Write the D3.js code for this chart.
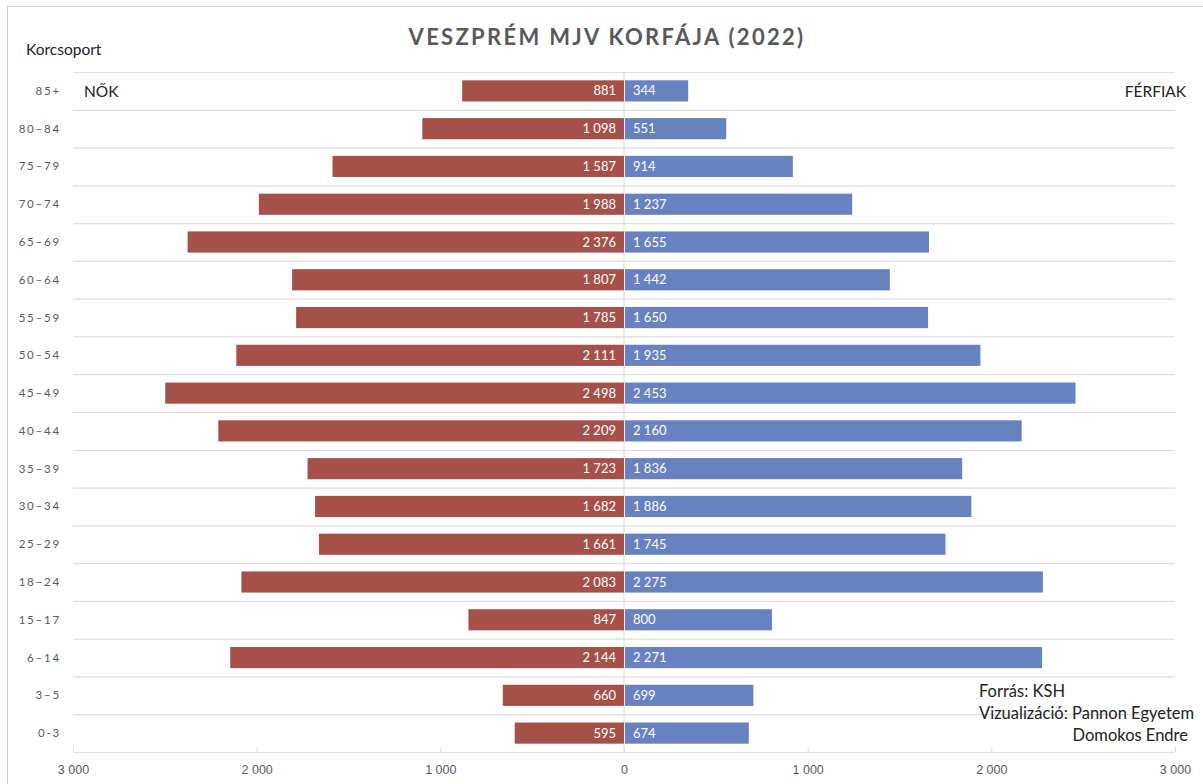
<!DOCTYPE html>
<html>
<head>
<meta charset="utf-8">
<script src="https://cdn.jsdelivr.net/npm/d3@7"></script>
<style>
  body { margin: 0; background: #fff; }
  svg { font-family: Lato, "Open Sans", sans-serif; }
</style>
</head>
<body>
<div id="chart"></div>
<script>
const AGE_GROUPS = ["85+", "80–84", "75–79", "70–74", "65–69", "60–64", "55–59", "50–54",
    "45–49", "40–44", "35–39", "30–34", "25–29", "18–24", "15–17", "6–14", "3–5", "0-3"];
const WOMEN = [881, 1098, 1587, 1988, 2376, 1807, 1785, 2111, 2498, 2209, 1723, 1682, 1661, 2083, 847, 2144, 660, 595];
const MEN = [344, 551, 914, 1237, 1655, 1442, 1650, 1935, 2453, 2160, 1836, 1886, 1745, 2275, 800, 2271, 699, 674];
const X_TICKS = [-3000, -2000, -1000, 0, 1000, 2000, 3000];

const width = 1203, height = 784;
const margin = { top: 72, right: 28, bottom: 32, left: 73 };
const innerW = width - margin.left - margin.right;
const innerH = height - margin.top - margin.bottom;

const RED = "#a5514a", BLUE = "#6782bf", GRID = "#dedede", TXT = "#595959";

const locale = d3.formatLocale({ decimal: ",", thousands: " ", grouping: [3], currency: ["", ""] });
const fmt = locale.format(",d");

const data = AGE_GROUPS.map((age, i) => ({ age, women: WOMEN[i], men: MEN[i] }));

const svg = d3.select("#chart").append("svg")
    .attr("width", width)
    .attr("height", height);

// chart frame
svg.append("rect")
    .attr("x", 7.5).attr("y", 6.5)
    .attr("width", width).attr("height", height)
    .attr("fill", "none")
    .attr("stroke", "#d0d0d0");

const g = svg.append("g")
    .attr("transform", `translate(${margin.left},${margin.top})`);

const x = d3.scaleLinear().domain([-3000, 3000]).range([0, innerW]);
const y = d3.scaleBand().domain(AGE_GROUPS).range([0, innerH]).paddingInner(0.44).paddingOuter(0.22);

// horizontal gridlines between rows
g.selectAll(".grid")
    .data(d3.range(AGE_GROUPS.length + 1))
    .enter().append("line")
    .attr("x1", 0).attr("x2", innerW)
    .attr("y1", i => i * innerH / AGE_GROUPS.length + 0.5)
    .attr("y2", i => i * innerH / AGE_GROUPS.length + 0.5)
    .attr("stroke", GRID)
    .attr("stroke-width", 1.2);

// x axis
const xAxis = g.append("g")
    .attr("transform", `translate(0,${innerH})`)
    .call(d3.axisBottom(x).tickValues(X_TICKS).tickSize(5).tickSizeOuter(0)
        .tickFormat(d => fmt(Math.abs(d))));
xAxis.select(".domain").remove();
xAxis.selectAll(".tick line").attr("stroke", GRID).attr("y1", -5).attr("y2", 0);
xAxis.selectAll(".tick text")
    .attr("y", 13)
    .attr("fill", TXT)
    .style("font-size", "12.5px");

// zero line
g.append("line")
    .attr("x1", x(0)).attr("x2", x(0))
    .attr("y1", 0).attr("y2", innerH)
    .attr("stroke", GRID)
    .attr("stroke-width", 1.2);

const rows = g.selectAll(".row")
    .data(data)
    .enter().append("g")
    .attr("class", "row");

rows.append("rect")
    .attr("x", d => x(-d.women))
    .attr("y", d => y(d.age))
    .attr("width", d => x(0) - x(-d.women))
    .attr("height", y.bandwidth())
    .attr("fill", RED);

rows.append("rect")
    .attr("x", x(0) + 1)
    .attr("y", d => y(d.age))
    .attr("width", d => x(d.men) - x(0))
    .attr("height", y.bandwidth())
    .attr("fill", BLUE);

rows.append("text")
    .attr("x", x(0) - 8)
    .attr("y", d => y(d.age) + y.bandwidth() / 2)
    .attr("dy", "0.35em")
    .attr("text-anchor", "end")
    .attr("fill", "#fff")
    .style("font-size", "13px")
    .text(d => fmt(d.women));

rows.append("text")
    .attr("x", x(0) + 9)
    .attr("y", d => y(d.age) + y.bandwidth() / 2)
    .attr("dy", "0.35em")
    .attr("fill", "#fff")
    .style("font-size", "13px")
    .text(d => fmt(d.men));

// category labels
g.selectAll(".cat")
    .data(AGE_GROUPS)
    .enter().append("text")
    .attr("x", -12)
    .attr("y", d => y(d) + y.bandwidth() / 2)
    .attr("dy", "0.35em")
    .attr("text-anchor", "end")
    .attr("fill", TXT)
    .style("font-size", "11.5px")
    .style("letter-spacing", "1.8px")
    .text(d => d);

// title and annotations
svg.append("text")
    .attr("x", 607).attr("y", 45)
    .attr("text-anchor", "middle")
    .attr("fill", TXT)
    .style("font-size", "22px")
    .style("font-weight", "bold")
    .style("letter-spacing", "2.3px")
    .text("VESZPRÉM MJV KORFÁJA (2022)");

svg.append("text")
    .attr("x", 26).attr("y", 55)
    .attr("fill", "#222")
    .style("font-size", "15.5px")
    .text("Korcsoport");

svg.append("text")
    .attr("x", 84).attr("y", 97)
    .attr("fill", "#222")
    .style("font-size", "15.5px")
    .text("NŐK");

svg.append("text")
    .attr("x", 1186).attr("y", 97)
    .attr("text-anchor", "end")
    .attr("fill", "#222")
    .style("font-size", "15.5px")
    .text("FÉRFIAK");

const credits = [
    { text: "Forrás: KSH", x: 979, y: 697, anchor: "start" },
    { text: "Vizualizáció: Pannon Egyetem", x: 979, y: 719, anchor: "start" },
    { text: "Domokos Endre", x: 1188, y: 741, anchor: "end" }
];
svg.selectAll(".credit")
    .data(credits)
    .enter().append("text")
    .attr("x", d => d.x).attr("y", d => d.y)
    .attr("text-anchor", d => d.anchor)
    .attr("fill", "#222")
    .style("font-size", "16.5px")
    .text(d => d.text);
</script>
</body>
</html>
